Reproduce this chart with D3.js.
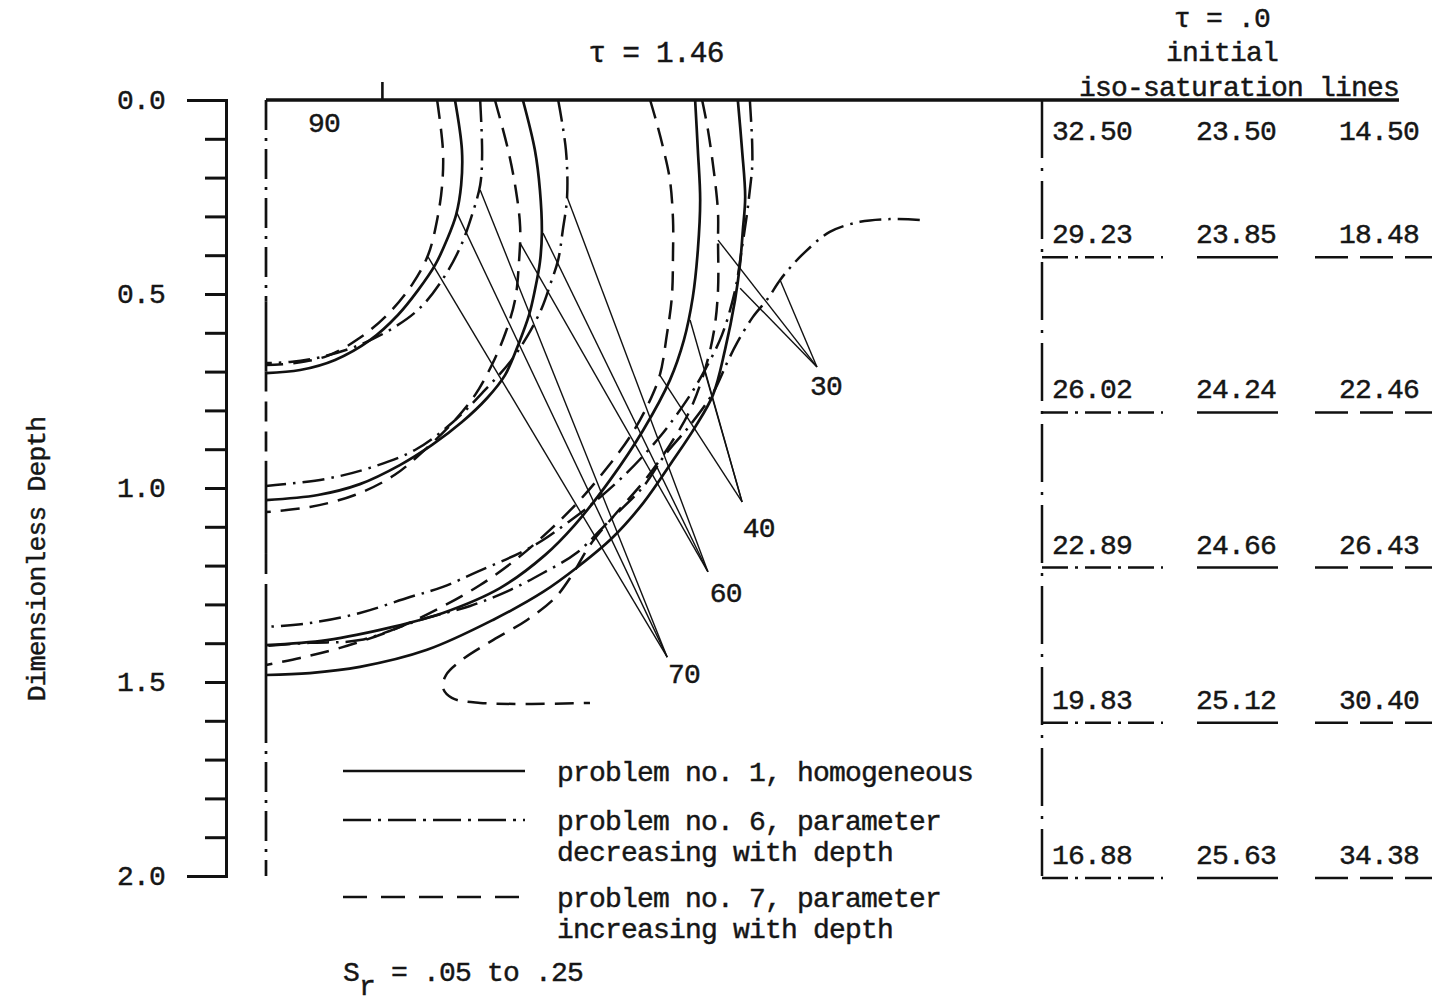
<!DOCTYPE html>
<html>
<head>
<meta charset="utf-8">
<script src="https://cdn.jsdelivr.net/npm/d3@7"></script>
<style>
  body { margin: 0; background: #fff; }
  text { font-family: "Liberation Mono", "DejaVu Sans Mono", monospace; fill: #161616;
         stroke: #161616; stroke-width: 0.45px; letter-spacing: -0.8px; }
</style>
</head>
<body>
<svg id="chart" width="1437" height="1003"></svg>
<script>
// ---- depth axis ----
const depthTicks = d3.range(0, 20.5, 1).map(v => v / 10);
const depthLabels = [0.0, 0.5, 1.0, 1.5, 2.0];

// ---- initial iso-saturation values (tau = 0) at each tabulated depth ----
const tableDepths = [0.0, 0.4, 0.8, 1.2, 1.6, 2.0];
const initialP6 = ["32.50", "29.23", "26.02", "22.89", "19.83", "16.88"];
const initialP1 = ["23.50", "23.85", "24.24", "24.66", "25.12", "25.63"];
const initialP7 = ["14.50", "18.48", "22.46", "26.43", "30.40", "34.38"];

// ---- iso-saturation lines at tau = 1.46, points are [width, depth] ----
const iso70_p7 = [[0.441,0],[0.456,0.129],[0.454,0.219],[0.441,0.309],[0.418,0.399],[0.379,0.472],[0.320,0.546],[0.242,0.613],[0.157,0.660],[0.075,0.678],[0,0.683]];
const iso70_p1 = [[0.487,0],[0.505,0.129],[0.503,0.219],[0.490,0.296],[0.466,0.361],[0.436,0.425],[0.392,0.490],[0.340,0.554],[0.268,0.619],[0.178,0.670],[0.088,0.696],[0,0.704]];
const iso70_p6 = [[0.552,0],[0.557,0.142],[0.552,0.219],[0.531,0.296],[0.500,0.381],[0.454,0.464],[0.397,0.536],[0.332,0.585],[0.242,0.631],[0.144,0.662],[0.062,0.675],[0,0.678]];

const iso60_p7 = [[0.590,0],[0.624,0.129],[0.644,0.232],[0.655,0.327],[0.652,0.418],[0.642,0.515],[0.618,0.598],[0.582,0.683],[0.539,0.760],[0.487,0.825],[0.423,0.889],[0.332,0.966],[0.229,1.018],[0.113,1.049],[0,1.062]];
const iso60_p1 = [[0.662,0],[0.693,0.129],[0.706,0.232],[0.711,0.343],[0.706,0.418],[0.693,0.490],[0.678,0.554],[0.652,0.626],[0.616,0.709],[0.570,0.768],[0.505,0.830],[0.428,0.889],[0.345,0.941],[0.242,0.990],[0.134,1.018],[0,1.031]];
const iso60_p6 = [[0.753,0],[0.773,0.129],[0.776,0.250],[0.765,0.335],[0.753,0.412],[0.732,0.477],[0.711,0.536],[0.675,0.606],[0.629,0.675],[0.559,0.753],[0.482,0.830],[0.384,0.902],[0.268,0.948],[0.152,0.977],[0,0.995]];

const iso40_p7 = [[0.990,0],[1.005,0.052],[1.023,0.121],[1.041,0.206],[1.049,0.309],[1.049,0.394],[1.046,0.508],[1.033,0.606],[1.015,0.709],[0.984,0.786],[0.938,0.868],[0.879,0.948],[0.809,1.031],[0.732,1.108],[0.642,1.186],[0.552,1.250],[0.448,1.309],[0.327,1.366],[0.191,1.412],[0.088,1.438],[0,1.456]];
const iso40_p1 = [[1.106,0],[1.113,0.129],[1.119,0.258],[1.113,0.387],[1.100,0.508],[1.077,0.619],[1.041,0.722],[0.972,0.851],[0.887,0.979],[0.796,1.095],[0.719,1.173],[0.603,1.258],[0.456,1.322],[0.327,1.358],[0.157,1.392],[0,1.405]];
const iso40_p6 = [[1.247,0],[1.253,0.111],[1.253,0.173],[1.247,0.232],[1.240,0.291],[1.227,0.379],[1.209,0.490],[1.175,0.606],[1.131,0.696],[1.085,0.773],[1.015,0.868],[0.930,0.961],[0.843,1.039],[0.776,1.090],[0.714,1.134],[0.655,1.167],[0.544,1.216],[0.456,1.255],[0.371,1.281],[0.242,1.322],[0.113,1.348],[0,1.358]];

const iso30_p7 = [[1.124,0],[1.139,0.077],[1.157,0.206],[1.165,0.291],[1.165,0.361],[1.165,0.490],[1.155,0.593],[1.131,0.696],[1.093,0.799],[1.041,0.889],[0.977,0.979],[0.899,1.069],[0.835,1.147],[0.789,1.224],[0.745,1.283],[0.673,1.340],[0.585,1.392],[0.505,1.443],[0.464,1.482],[0.456,1.515],[0.479,1.541],[0.552,1.554],[0.835,1.554]];
const iso30_p1 = [[1.216,0],[1.227,0.129],[1.235,0.250],[1.229,0.335],[1.222,0.420],[1.209,0.515],[1.183,0.644],[1.152,0.760],[1.106,0.843],[1.046,0.933],[0.972,1.039],[0.892,1.129],[0.804,1.203],[0.714,1.268],[0.585,1.340],[0.415,1.417],[0.242,1.461],[0.113,1.477],[0,1.482]];
const iso30_p6 = [[1.685,0.309],[1.608,0.307],[1.531,0.314],[1.453,0.340],[1.389,0.392],[1.350,0.433],[1.325,0.464],[1.291,0.515],[1.255,0.559],[1.214,0.626],[1.188,0.678],[1.152,0.755],[1.093,0.838],[1.028,0.915],[0.972,0.997],[0.887,1.082],[0.801,1.167],[0.714,1.219],[0.629,1.263],[0.526,1.304],[0.397,1.340],[0.242,1.392],[0.113,1.399],[0,1.407]];

// ---- level labels with their leader targets ([width, depth]) ----
const levelLabels = ["90", "70", "60", "40", "30"];
const labelAt = [[0.108,0.082],[1.036,1.503],[1.144,1.294],[1.229,1.126],[1.402,0.760]];
const leaderFrom = [null,[1.034,1.436],[1.139,1.216],[1.227,1.036],[1.420,0.688]];
const leaderTo = [
  [],
  [[0.418,0.405],[0.492,0.291],[0.552,0.232]],
  [[0.655,0.369],[0.714,0.343],[0.776,0.250]],
  [[1.015,0.709],[1.093,0.567],[1.131,0.696]],
  [[1.165,0.361],[1.222,0.485],[1.325,0.464]]
];

// ---- line-type pieces of the left boundary (depth from, depth to, type) ----
const boundaryPieces = [[0,0.52,"p6"],[0.52,0.70,"p1"],[0.70,0.93,"p7"],[0.93,1.17,"p1"],[1.17,1.25,"p7"],[1.25,1.58,"p1"],[1.58,2.0,"p6"]];

const legendItems = [
  {type: "p1", lines: ["problem no. 1, homogeneous"]},
  {type: "p6", lines: ["problem no. 6, parameter", "decreasing with depth"]},
  {type: "p7", lines: ["problem no. 7, parameter", "increasing with depth"]}
];

// ---- scales ----
const svg = d3.select("#chart");
const y = d3.scaleLinear().domain([0, 2]).range([100, 876]);
const x = d3.scaleLinear().domain([0, 1]).range([266, 654]);
const fs = 28;   // typewriter text size

const styles = {
  p1: {dash: null, w: 2.7},
  p6: {dash: "22 7 2.5 7", w: 2.5},
  p7: {dash: "19 10", w: 2.5}
};
const applyStyle = (sel, t, dash) => sel
  .attr("fill", "none").attr("stroke", "#111")
  .attr("stroke-width", styles[t].w)
  .attr("stroke-dasharray", dash !== undefined ? dash : styles[t].dash);

// ---- depth axis ----
const axis = svg.append("g").attr("transform", "translate(226,0)")
  .call(d3.axisLeft(y).tickValues(depthTicks).tickSize(21).tickSizeOuter(39).tickFormat(""));
axis.selectAll("path, line").attr("stroke", "#111").attr("stroke-width", 3);

const axisLabels = svg.append("g").attr("transform", "translate(226,0)")
  .call(d3.axisLeft(y).tickValues(depthLabels).tickSize(0).tickPadding(61).tickFormat(d3.format(".1f")));
axisLabels.select(".domain").remove();
axisLabels.selectAll("text").style("font-family", '"Liberation Mono", monospace')
  .attr("font-size", fs).attr("fill", "#161616");

svg.append("text").attr("transform", "translate(45,559) rotate(-90)")
  .attr("text-anchor", "middle").attr("font-size", 26.3).text("Dimensionless Depth");

// ---- surface line and table boundary ----
const surfaceEnd = 2.92;
svg.append("line").attr("x1", x(0)).attr("x2", x(surfaceEnd)).attr("y1", y(0)).attr("y2", y(0))
  .attr("stroke", "#111").attr("stroke-width", 3.6);
svg.append("line").attr("x1", x(0.3)).attr("x2", x(0.3)).attr("y1", y(0) - 18).attr("y2", y(0))
  .attr("stroke", "#111").attr("stroke-width", 2.6);

// left boundary of the flow region
boundaryPieces.forEach(([a, b, t]) => {
  svg.append("line").attr("x1", x(0)).attr("x2", x(0)).attr("y1", y(a)).attr("y2", y(b))
    .call(applyStyle, t, t === "p6" ? "30 8 3 8" : t === "p7" ? "20 10" : null)
    .attr("stroke-width", 2.7);
});

// ---- iso-saturation lines ----
const isoLines = [
  [iso70_p7, "p7"], [iso70_p1, "p1"], [iso70_p6, "p6"],
  [iso60_p7, "p7"], [iso60_p1, "p1"], [iso60_p6, "p6"],
  [iso40_p7, "p7"], [iso40_p1, "p1"], [iso40_p6, "p6"],
  [iso30_p7, "p7"], [iso30_p1, "p1"], [iso30_p6, "p6"]
];
const line = d3.line().x(d => x(d[0])).y(d => y(d[1])).curve(d3.curveCatmullRom.alpha(0.5));
svg.append("g").selectAll("path").data(isoLines).join("path")
  .attr("d", d => line(d[0]))
  .each(function(d) { d3.select(this).call(applyStyle, d[1]); });

// ---- leaders and level labels ----
const gLead = svg.append("g").attr("stroke", "#111").attr("stroke-width", 1.4);
leaderFrom.forEach((from, i) => {
  if (!from) return;
  leaderTo[i].forEach(to => {
    gLead.append("line").attr("x1", x(from[0])).attr("y1", y(from[1]))
      .attr("x2", x(to[0])).attr("y2", y(to[1]));
  });
});
svg.append("g").selectAll("text").data(levelLabels).join("text")
  .attr("x", (d, i) => x(labelAt[i][0])).attr("y", (d, i) => y(labelAt[i][1]))
  .attr("font-size", fs).text(d => d);

// ---- titles ----
svg.append("text").attr("x", 656).attr("y", 62).attr("text-anchor", "middle")
  .attr("font-size", 29.5).text("τ = 1.46");
svg.append("text").attr("x", 1222).attr("y", 27).attr("text-anchor", "middle")
  .attr("font-size", fs).text("τ = .0");
svg.append("text").attr("x", 1222).attr("y", 61).attr("text-anchor", "middle")
  .attr("font-size", fs).text("initial");
svg.append("text").attr("x", 1239).attr("y", 96).attr("text-anchor", "middle")
  .attr("font-size", fs).text("iso-saturation lines");

// ---- table of initial values ----
const tX = x(2);
svg.append("line").attr("x1", tX).attr("x2", tX).attr("y1", y(0)).attr("y2", y(2))
  .call(applyStyle, "p6", "58 10 3 10").attr("stroke-width", 2.5);
const cols = [
  {vals: initialP6, tx: tX + 10, l0: tX, l1: tX + 121, type: "p6", dash: "26 7 3 7"},
  {vals: initialP1, tx: tX + 154, l0: tX + 155, l1: tX + 236, type: "p1", dash: null},
  {vals: initialP7, tx: tX + 297, l0: tX + 273, l1: tX + 390, type: "p7", dash: "33 12"}
];
cols.forEach(c => {
  svg.append("g").selectAll("text").data(tableDepths).join("text")
    .attr("x", c.tx).attr("y", d => d === 0 ? y(d) + 40 : y(d) - 12)
    .attr("font-size", fs).text((d, i) => c.vals[i]);
  svg.append("g").selectAll("line").data(tableDepths.slice(1)).join("line")
    .attr("x1", c.l0).attr("x2", c.l1).attr("y1", d => y(d) + 2).attr("y2", d => y(d) + 2)
    .call(applyStyle, c.type, c.dash).attr("stroke-width", 2.5);
});

// ---- legend ----
const legY = [771, 820, 897];
const lg = svg.append("g");
legendItems.forEach((it, i) => {
  lg.append("line").attr("x1", 343).attr("x2", 525).attr("y1", legY[i]).attr("y2", legY[i])
    .call(applyStyle, it.type, it.type === "p6" ? "28 7 3 7" : it.type === "p7" ? "24 14" : null)
    .attr("stroke-width", 2.5);
  it.lines.forEach((t, j) => {
    lg.append("text").attr("x", 557).attr("y", legY[i] + 10 + j * 31)
      .attr("font-size", fs).text(t);
  });
});
const sr = svg.append("text").attr("x", 343).attr("y", 981).attr("font-size", fs);
sr.append("tspan").text("S");
sr.append("tspan").attr("dy", 14).text("r");
sr.append("tspan").attr("dy", -14).text(" = .05 to .25");
</script>
</body>
</html>
